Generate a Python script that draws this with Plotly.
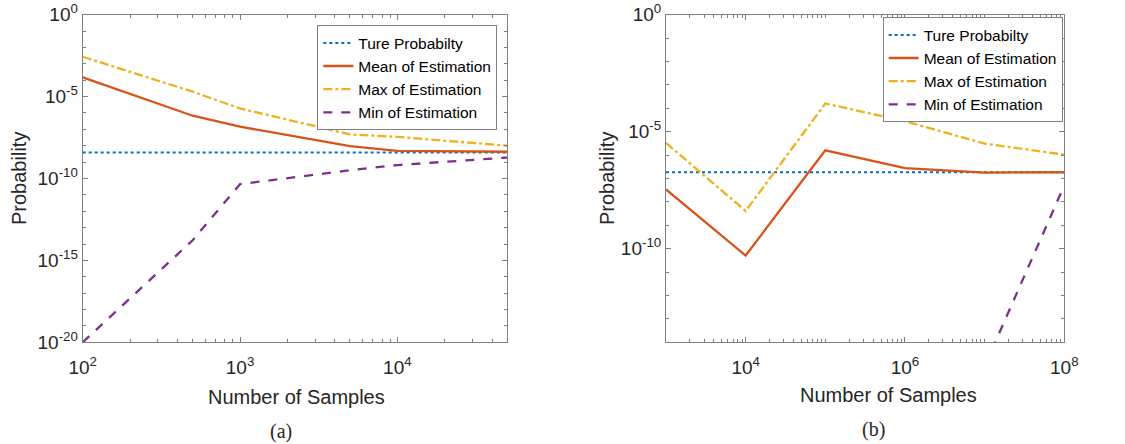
import plotly.graph_objects as go

# ---------------- data ----------------
samples_a = [1e2, 5e2, 1e3, 5e3, 1e4, 5e4]
true_a = [3.9e-9] * 6
mean_a = [1.5e-4, 6.8e-7, 1.45e-7, 9.5e-9, 4.9e-9, 4.3e-9]
max_a = [2.7e-3, 2.0e-5, 1.9e-6, 4.9e-8, 3.5e-8, 1.0e-8]
min_a = [1.0e-20, 1.7e-14, 4.5e-11, 3.2e-10, 6.6e-10, 1.9e-9]

samples_b = [1e3, 1e4, 1e5, 1e6, 1e7, 1e8]
true_b = [1.85e-7] * 6
mean_b = [3.4e-8, 5.1e-11, 1.6e-6, 2.8e-7, 1.8e-7, 1.85e-7]
max_b = [3.3e-6, 4.1e-9, 1.6e-4, 2.8e-5, 3.1e-6, 1.05e-6]
min_b = [None, None, None, None, 9.5e-16, 5.1e-8]

names = ["Ture Probabilty", "Mean of Estimation", "Max of Estimation", "Min of Estimation"]
colors = ["#0072BD", "#D95319", "#EDB120", "#7E2F8E"]
dashes = ["dot", "solid", "dashdot", "dash"]

ytick_a_vals = [1e0, 1e-5, 1e-10, 1e-15, 1e-20]
ytick_a_text = ["10<sup>0</sup>", "10<sup>-5</sup>", "10<sup>-10</sup>", "10<sup>-15</sup>", "10<sup>-20</sup>"]
ytick_b_vals = [1e0, 1e-5, 1e-10]
ytick_b_text = ["10<sup>0</sup>", "10<sup>-5</sup>", "10<sup>-10</sup>"]
xtick_a_vals = [1e2, 1e3, 1e4]
xtick_a_text = ["10<sup>2</sup>", "10<sup>3</sup>", "10<sup>4</sup>"]
xtick_b_vals = [1e4, 1e6, 1e8]
xtick_b_text = ["10<sup>4</sup>", "10<sup>6</sup>", "10<sup>8</sup>"]

W, H = 1125, 444
FONT = "Liberation Sans, Arial, sans-serif"
AX = "#808080"

fig = go.Figure()

def add_panel(xs, series, xa, ya, legend):
    for i, ys in enumerate(series):
        fig.add_trace(go.Scatter(
            x=xs, y=ys, mode="lines", name=names[i],
            line=dict(color=colors[i], dash=dashes[i], width=2.3 if i else 2),
            xaxis=xa, yaxis=ya, legend=legend, connectgaps=False,
        ))

add_panel(samples_a, [true_a, mean_a, max_a, min_a], "x", "y", "legend")
add_panel(samples_b, [true_b, mean_b, max_b, min_b], "x2", "y2", "legend2")

def px_x(v):
    return v / W

def px_y(v):
    return 1 - v / H

common_axis = dict(
    type="log", showgrid=False, zeroline=False, showline=True, linecolor=AX, linewidth=1,
    mirror="ticks", ticks="inside", ticklen=5, tickcolor=AX, automargin=False,
    ticklabeloverflow="allow",
    tickfont=dict(family=FONT, size=19, color="#262626"),
)

xa_a = dict(common_axis, domain=[px_x(82.7), px_x(507.3)], anchor="y",
            range=[2, 4.699], tickmode="array", tickvals=xtick_a_vals, ticktext=xtick_a_text,
            ticklabelstandoff=8,
            minor=dict(dtick="D1", ticks="inside", ticklen=3, tickcolor=AX))
ya_a = dict(common_axis, domain=[px_y(342.3), px_y(14.7)], anchor="x",
            range=[-20, 0], tickmode="array", tickvals=ytick_a_vals, ticktext=ytick_a_text,
            minor=dict(dtick=1, ticks="inside", ticklen=3, tickcolor=AX))
xa_b = dict(common_axis, domain=[px_x(666), px_x(1064.3)], anchor="y2",
            range=[3, 8], tickmode="array", tickvals=xtick_b_vals, ticktext=xtick_b_text,
            ticklabelstandoff=8,
            minor=dict(dtick="D1", ticks="inside", ticklen=3, tickcolor=AX))
ya_b = dict(common_axis, domain=[px_y(342.3), px_y(14.7)], anchor="x2",
            range=[-14, 0], tickmode="array", tickvals=ytick_b_vals, ticktext=ytick_b_text,
            minor=dict(dtick=1, ticks="inside", ticklen=3, tickcolor=AX))

legend_common = dict(
    bgcolor="white", bordercolor=AX, borderwidth=1,
    font=dict(family=FONT, size=15.5, color="#000000"),
    xanchor="right", yanchor="top", tracegroupgap=0, itemwidth=30,
)

annotations = []
def text(x, y, s, size, family=FONT, angle=0):
    annotations.append(dict(x=px_x(x), y=px_y(y), xref="paper", yref="paper", text=s,
                            showarrow=False, textangle=angle,
                            font=dict(family=family, size=size, color="#262626"),
                            xanchor="center", yanchor="middle"))

text(296, 397, "Number of Samples", 20)
text(888, 395, "Number of Samples", 20)
text(19, 179, "Probability", 20, angle=-90)
text(607, 179, "Probability", 20, angle=-90)
text(281, 431, "(a)", 20, family="Liberation Serif, Times New Roman, serif")
text(873, 429, "(b)", 20, family="Liberation Serif, Times New Roman, serif")

fig.update_layout(
    width=W, height=H,
    margin=dict(l=0, r=0, t=0, b=0, autoexpand=False),
    paper_bgcolor="white", plot_bgcolor="white",
    xaxis=xa_a, yaxis=ya_a, xaxis2=xa_b, yaxis2=ya_b,
    legend=dict(legend_common, x=px_x(497.3), y=px_y(25.3)),
    legend2=dict(legend_common, x=px_x(1062.7), y=px_y(17.3)),
    annotations=annotations,
    font=dict(family=FONT),
)

fig.write_html("out.html", config={"displayModeBar": False},
               post_script="document.body.style.margin='0px';")
